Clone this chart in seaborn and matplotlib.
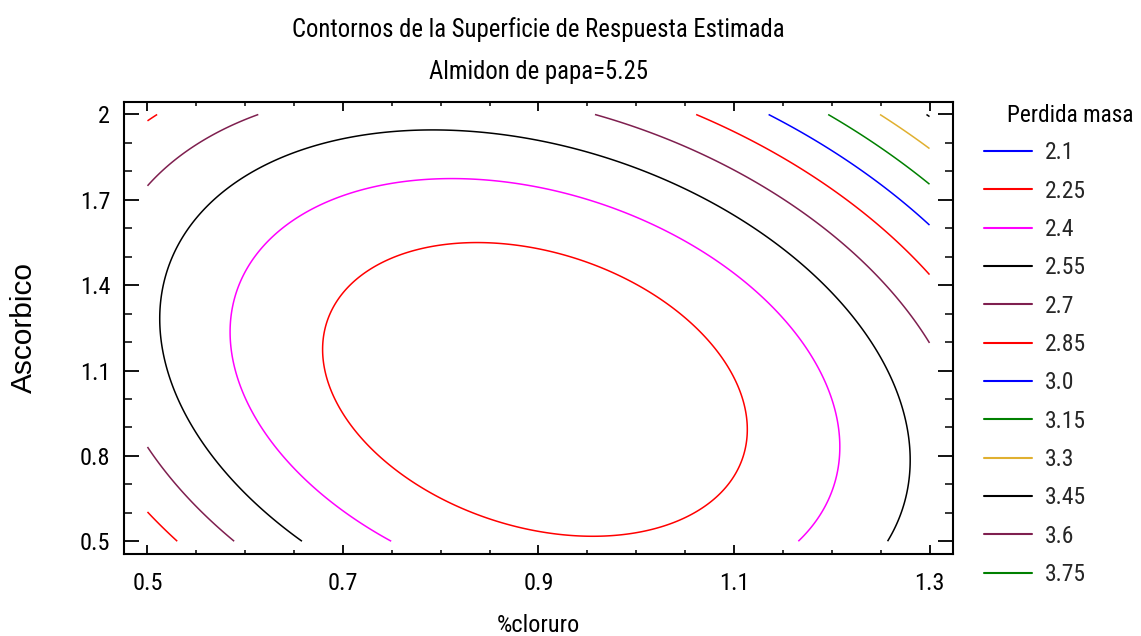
import numpy as np
import matplotlib
matplotlib.use("Agg")
import matplotlib.pyplot as plt
import seaborn as sns
from matplotlib.lines import Line2D
from matplotlib.ticker import MultipleLocator

# Fitted second-order surface, coded units:
# u = (%cloruro - 0.9) / 0.4, v = (Ascorbico - 1.25) / 0.75
b0 = 2.1361
b_u = 0.0736
b_v = 0.1880
b_uu = 0.5177
b_vv = 0.3223
b_uv = 0.2226

x_range = [0.5, 1.3]
y_range = [0.5, 2.0]

levels = [2.1, 2.25, 2.4, 2.55, 2.7, 2.85, 3.0, 3.15, 3.3, 3.45, 3.6, 3.75]
level_labels = ["2.1", "2.25", "2.4", "2.55", "2.7", "2.85", "3.0", "3.15", "3.3", "3.45", "3.6", "3.75"]
level_colors = ["#0000ff", "#ff0000", "#ff00ff", "#000000", "#7f1f4f", "#ff0000",
                "#0000ff", "#008000", "#e0b030", "#000000", "#7f1f4f", "#008000"]

x_ticks = [0.5, 0.7, 0.9, 1.1, 1.3]
x_ticklabels = ["0.5", "0.7", "0.9", "1.1", "1.3"]
y_ticks = [0.5, 0.8, 1.1, 1.4, 1.7, 2.0]
y_ticklabels = ["0.5", "0.8", "1.1", "1.4", "1.7", "2"]

sns.set_theme(style="white")
narrow = ["Roboto Condensed", "Liberation Sans", "DejaVu Sans"]
plt.rcParams["font.family"] = narrow

fig = plt.figure(figsize=(11.41, 6.36), dpi=100)
ax = fig.add_axes([0.1087, 0.1289, 0.7265, 0.7112])

gx = np.linspace(x_range[0], x_range[1], 400)
gy = np.linspace(y_range[0], y_range[1], 400)
GX, GY = np.meshgrid(gx, gy)
U = (GX - 0.9) / 0.4
V = (GY - 1.25) / 0.75
Z = b0 + b_u * U + b_v * V + b_uu * U ** 2 + b_vv * V ** 2 + b_uv * U * V
ax.contour(GX, GY, Z, levels=levels, colors=level_colors, linewidths=1.1)

ax.set_xlim(0.476, 1.324)
ax.set_ylim(0.455, 2.045)
ax.xaxis.set_minor_locator(MultipleLocator(0.05))
ax.yaxis.set_minor_locator(MultipleLocator(0.1))
ax.set_xticks(x_ticks)
ax.set_xticklabels(x_ticklabels)
ax.set_yticks(y_ticks)
ax.set_yticklabels(y_ticklabels)
for s in ax.spines.values():
    s.set_color("black")
    s.set_linewidth(1.5)
ax.tick_params(axis="x", which="major", direction="in", length=6.5, width=1.3,
               top=True, bottom=True, labelsize=17.5, pad=13, colors="black")
ax.tick_params(axis="x", which="minor", direction="in", length=3, width=1.3,
               top=True, bottom=True)
ax.tick_params(axis="y", which="major", direction="in", length=10.5, width=1.3,
               left=True, right=True, labelsize=17.5, pad=10, colors="black")
ax.tick_params(axis="y", which="minor", direction="in", length=5.5, width=1.3,
               left=True, right=True)
ax.set_xlabel("%cloruro", fontsize=17.5, color="black")
ax.xaxis.set_label_coords(0.5, -0.133)
ax.set_ylabel("Ascorbico", fontsize=21.5, color="black",
              family=["Liberation Sans", "DejaVu Sans"])
ax.yaxis.set_label_coords(-0.104, 0.5)

fig.text(0.472, 0.953, "Contornos de la Superficie de Respuesta Estimada",
         ha="center", va="center", fontsize=17.8, color="black")
fig.text(0.472, 0.887, "Almidon de papa=5.25", ha="center", va="center",
         fontsize=17.8, color="black")

handles = [Line2D([], [], color=c, lw=1.5) for c in level_colors]
ax.legend(handles, level_labels, loc="upper left",
          bbox_to_anchor=(0.862, 0.778), bbox_transform=fig.transFigure,
          frameon=False, fontsize=17, handlelength=2.05, handletextpad=0.55,
          labelspacing=0.65, borderpad=0, borderaxespad=0)
fig.text(0.8825, 0.819, "Perdida masa", ha="left", va="center", fontsize=16.8,
         color="black")

fig.savefig("out.png", dpi=100)
